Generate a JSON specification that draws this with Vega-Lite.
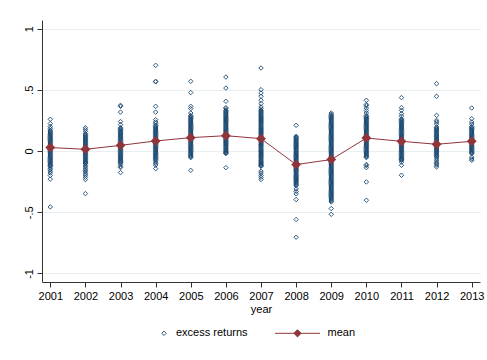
{
  "$schema": "https://vega.github.io/schema/vega-lite/v6.json",
  "width": 438,
  "height": 262,
  "autosize": "none",
  "padding": {"left": 42, "top": 20, "right": 7, "bottom": 78},
  "background": "white",
  "config": {
    "view": {"stroke": null},
    "font": "Liberation Sans",
    "axis": {"labelFont": "Liberation Sans", "titleFont": "Liberation Sans", "labelColor": "#000", "titleColor": "#000", "domainColor": "#333", "tickColor": "#333", "tickSize": 5, "labelFontSize": 11, "titleFontSize": 11, "titleFontWeight": "normal"},
    "axisX": {"labelOverlap": false, "labelSeparation": 0},
    "legend": {"labelFont": "Liberation Sans", "labelFontSize": 11, "labelColor": "#000", "padding": 0}
  },
  "datasets": {
    "pts": [
      {"year": 2001, "r": [0.259, 0.224, 0.2, 0.185, 0.17, 0.155, 0.14, 0.125, 0.11, 0.095, 0.08, 0.065, 0.05, 0.035, 0.02, 0.005, -0.01, -0.025, -0.04, -0.055, -0.07, -0.085, -0.1, -0.115, -0.125, -0.14, -0.152, -0.165, -0.18, -0.2, -0.23, -0.457, 0.1625, 0.1475, 0.1325, 0.1175, 0.1025, 0.0875, 0.0725, 0.0575, 0.0425, 0.0275, 0.0125, -0.0025, -0.0175, -0.0325, -0.0475, -0.0625, -0.0775, -0.0925, -0.1075, -0.12]},
      {"year": 2002, "r": [0.19, 0.175, 0.16, 0.142, 0.127, 0.112, 0.097, 0.082, 0.067, 0.052, 0.037, 0.022, 0.007, -0.008, -0.023, -0.038, -0.053, -0.068, -0.083, -0.098, -0.103, -0.118, -0.13, -0.145, -0.158, -0.17, -0.185, -0.198, -0.215, -0.233, -0.348, 0.1345, 0.1195, 0.1045, 0.0895, 0.0745, 0.0595, 0.0445, 0.0295, 0.0145, -0.0005, -0.0155, -0.0305, -0.0455, -0.0605, -0.0755, -0.0905, -0.1]},
      {"year": 2003, "r": [0.373, 0.365, 0.318, 0.24, 0.215, 0.19, 0.183, 0.168, 0.153, 0.138, 0.123, 0.108, 0.093, 0.078, 0.063, 0.048, 0.033, 0.018, 0.003, -0.012, -0.027, -0.042, -0.057, -0.072, -0.087, -0.098, -0.11, -0.125, -0.135, -0.176, 0.1755, 0.1605, 0.1455, 0.1305, 0.1155, 0.1005, 0.0855, 0.0705, 0.0555, 0.0405, 0.0255, 0.0105, -0.0045, -0.0195, -0.0345, -0.0495, -0.0645, -0.0795, -0.0925]},
      {"year": 2004, "r": [0.7, 0.569, 0.565, 0.365, 0.318, 0.256, 0.237, 0.225, 0.21, 0.195, 0.18, 0.165, 0.15, 0.135, 0.12, 0.105, 0.09, 0.075, 0.06, 0.045, 0.03, 0.015, 0, -0.015, -0.03, -0.045, -0.06, -0.076, -0.09, -0.103, -0.115, -0.144, 0.2025, 0.1875, 0.1725, 0.1575, 0.1425, 0.1275, 0.1125, 0.0975, 0.0825, 0.0675, 0.0525, 0.0375, 0.0225, 0.0075, -0.0075, -0.0225, -0.0375, -0.0525, -0.068]},
      {"year": 2005, "r": [0.569, 0.477, 0.365, 0.346, 0.31, 0.29, 0.275, 0.26, 0.245, 0.23, 0.215, 0.2, 0.185, 0.17, 0.155, 0.14, 0.125, 0.11, 0.095, 0.08, 0.065, 0.05, 0.035, 0.02, 0.005, -0.01, -0.025, -0.04, -0.054, -0.158, 0.2825, 0.2675, 0.2525, 0.2375, 0.2225, 0.2075, 0.1925, 0.1775, 0.1625, 0.1475, 0.1325, 0.1175, 0.1025, 0.0875, 0.0725, 0.0575, 0.0425, 0.0275, 0.0125, -0.0025, -0.0175, -0.0325, -0.047]},
      {"year": 2006, "r": [0.604, 0.514, 0.406, 0.354, 0.345, 0.332, 0.317, 0.302, 0.287, 0.272, 0.257, 0.242, 0.227, 0.212, 0.197, 0.182, 0.167, 0.152, 0.137, 0.122, 0.107, 0.092, 0.077, 0.062, 0.047, 0.032, 0.017, 0.002, -0.013, -0.021, -0.136, 0.3245, 0.3095, 0.2945, 0.2795, 0.2645, 0.2495, 0.2345, 0.2195, 0.2045, 0.1895, 0.1745, 0.1595, 0.1445, 0.1295, 0.1145, 0.0995, 0.0845, 0.0695, 0.0545, 0.0395, 0.0245, 0.0095, -0.0055, -0.017]},
      {"year": 2007, "r": [0.678, 0.501, 0.474, 0.447, 0.414, 0.387, 0.36, 0.345, 0.332, 0.317, 0.302, 0.287, 0.272, 0.257, 0.242, 0.227, 0.212, 0.197, 0.182, 0.167, 0.152, 0.137, 0.122, 0.107, 0.092, 0.077, 0.062, 0.047, 0.032, 0.017, 0.002, -0.013, -0.028, -0.043, -0.058, -0.073, -0.088, -0.103, -0.118, -0.125, -0.165, -0.18, -0.2, -0.215, -0.233, 0.3245, 0.3095, 0.2945, 0.2795, 0.2645, 0.2495, 0.2345, 0.2195, 0.2045, 0.1895, 0.1745, 0.1595, 0.1445, 0.1295, 0.1145, 0.0995, 0.0845, 0.0695, 0.0545, 0.0395, 0.0245, 0.0095, -0.0055, -0.0205, -0.0355, -0.0505, -0.0655, -0.0805, -0.0955, -0.1105, -0.1215]},
      {"year": 2008, "r": [0.21, 0.12, 0.105, 0.09, 0.075, 0.06, 0.045, 0.03, 0.015, 0, -0.015, -0.03, -0.045, -0.06, -0.075, -0.09, -0.105, -0.12, -0.135, -0.15, -0.165, -0.18, -0.198, -0.21, -0.225, -0.24, -0.255, -0.27, -0.285, -0.31, -0.33, -0.35, -0.397, -0.56, -0.704, 0.1125, 0.0975, 0.0825, 0.0675, 0.0525, 0.0375, 0.0225, 0.0075, -0.0075, -0.0225, -0.0375, -0.0525, -0.0675, -0.0825, -0.0975, -0.1125, -0.1275, -0.1425, -0.1575, -0.1725, -0.189, -0.204, -0.2175, -0.2325, -0.2475, -0.2625, -0.2775]},
      {"year": 2009, "r": [0.31, 0.3, 0.29, 0.275, 0.26, 0.245, 0.23, 0.215, 0.2, 0.185, 0.17, 0.155, 0.14, 0.125, 0.11, 0.095, 0.08, 0.065, 0.05, 0.035, 0.02, 0.005, -0.01, -0.025, -0.04, -0.055, -0.07, -0.085, -0.1, -0.115, -0.13, -0.145, -0.16, -0.175, -0.19, -0.205, -0.22, -0.235, -0.25, -0.265, -0.28, -0.295, -0.31, -0.325, -0.34, -0.355, -0.37, -0.385, -0.4, -0.416, -0.47, -0.517, 0.2825, 0.2675, 0.2525, 0.2375, 0.2225, 0.2075, 0.1925, 0.1775, 0.1625, 0.1475, 0.1325, 0.1175, 0.1025, 0.0875, 0.0725, 0.0575, 0.0425, 0.0275, 0.0125, -0.0025, -0.0175, -0.0325, -0.0475, -0.0625, -0.0775, -0.0925, -0.1075, -0.1225, -0.1375, -0.1525, -0.1675, -0.1825, -0.1975, -0.2125, -0.2275, -0.2425, -0.2575, -0.2725, -0.2875, -0.3025, -0.3175, -0.3325, -0.3475, -0.3625, -0.3775, -0.3925, -0.408]},
      {"year": 2010, "r": [0.414, 0.38, 0.37, 0.35, 0.33, 0.31, 0.29, 0.275, 0.26, 0.245, 0.23, 0.215, 0.2, 0.185, 0.17, 0.155, 0.14, 0.125, 0.11, 0.095, 0.08, 0.065, 0.05, 0.035, 0.02, 0.005, -0.01, -0.025, -0.04, -0.054, -0.11, -0.12, -0.136, -0.253, -0.402, 0.2825, 0.2675, 0.2525, 0.2375, 0.2225, 0.2075, 0.1925, 0.1775, 0.1625, 0.1475, 0.1325, 0.1175, 0.1025, 0.0875, 0.0725, 0.0575, 0.0425, 0.0275, 0.0125, -0.0025, -0.0175, -0.0325, -0.047]},
      {"year": 2011, "r": [0.436, 0.354, 0.332, 0.305, 0.285, 0.264, 0.249, 0.234, 0.219, 0.204, 0.189, 0.174, 0.159, 0.144, 0.129, 0.114, 0.099, 0.084, 0.069, 0.054, 0.039, 0.024, 0.009, -0.006, -0.021, -0.036, -0.051, -0.066, -0.076, -0.09, -0.117, -0.198, 0.2565, 0.2415, 0.2265, 0.2115, 0.1965, 0.1815, 0.1665, 0.1515, 0.1365, 0.1215, 0.1065, 0.0915, 0.0765, 0.0615, 0.0465, 0.0315, 0.0165, 0.0015, -0.0135, -0.0285, -0.0435, -0.0585, -0.071]},
      {"year": 2012, "r": [0.55, 0.447, 0.291, 0.25, 0.237, 0.22, 0.196, 0.181, 0.166, 0.151, 0.136, 0.121, 0.106, 0.091, 0.076, 0.061, 0.046, 0.031, 0.016, 0.001, -0.014, -0.029, -0.044, -0.049, -0.065, -0.08, -0.095, -0.103, -0.115, -0.13, 0.1885, 0.1735, 0.1585, 0.1435, 0.1285, 0.1135, 0.0985, 0.0835, 0.0685, 0.0535, 0.0385, 0.0235, 0.0085, -0.0065, -0.0215, -0.0365]},
      {"year": 2013, "r": [0.351, 0.264, 0.237, 0.22, 0.2, 0.185, 0.17, 0.155, 0.14, 0.125, 0.11, 0.095, 0.08, 0.065, 0.05, 0.035, 0.02, 0.005, -0.01, -0.022, -0.05, -0.065, -0.076, 0.1925, 0.1775, 0.1625, 0.1475, 0.1325, 0.1175, 0.1025, 0.0875, 0.0725, 0.0575, 0.0425, 0.0275, 0.0125, -0.0025, -0.016]}
    ],
    "means": [
      {"year": 2001, "mean": 0.028},
      {"year": 2002, "mean": 0.014},
      {"year": 2003, "mean": 0.046},
      {"year": 2004, "mean": 0.082},
      {"year": 2005, "mean": 0.109},
      {"year": 2006, "mean": 0.125},
      {"year": 2007, "mean": 0.101},
      {"year": 2008, "mean": -0.111},
      {"year": 2009, "mean": -0.07},
      {"year": 2010, "mean": 0.106},
      {"year": 2011, "mean": 0.079},
      {"year": 2012, "mean": 0.055},
      {"year": 2013, "mean": 0.079}
    ]
  },
  "layer": [
    {
      "data": {"name": "pts"},
      "transform": [{"flatten": ["r"]}],
      "mark": {"type": "point", "shape": "diamond", "filled": false, "size": 20, "strokeWidth": 0.9, "opacity": 1},
      "encoding": {
        "x": {"field": "year", "type": "quantitative", "scale": {"domain": [2000.764, 2013.236], "nice": false, "zero": false},
          "axis": {"values": [2001, 2002, 2003, 2004, 2005, 2006, 2007, 2008, 2009, 2010, 2011, 2012, 2013], "format": "d", "title": "year", "grid": false, "labelPadding": 3, "titlePadding": 2, "labelFlush": false, "labelOverlap": false}},
        "y": {"field": "r", "type": "quantitative", "scale": {"domain": [-1.07, 1.07], "nice": false, "zero": false},
          "axis": {"values": [-1, -0.5, 0, 0.5, 1], "title": null, "grid": true, "gridColor": "#e8eff1", "gridWidth": 1, "labelAngle": 270, "labelAlign": "center", "labelBaseline": "bottom", "labelPadding": 3,
            "labelExpr": "datum.value == 0.5 ? '.5' : datum.value == -0.5 ? '-.5' : datum.value == -1 ? '-1' : datum.value == 1 ? '1' : '0'"}},
        "color": {"datum": "excess returns", "type": "nominal",
          "scale": {"domain": ["excess returns"], "range": ["#1a476f"]},
          "legend": {"title": null, "orient": "none", "legendX": 116.5, "legendY": 306.3,
            "symbolType": "diamond", "symbolSize": 20, "symbolStrokeWidth": 0.9, "clipHeight": 14, "labelOffset": 6.5}}
      }
    },
    {
      "data": {"name": "means"},
      "mark": {"type": "line", "strokeWidth": 1, "color": "#90353b", "point": {"shape": "diamond", "filled": true, "size": 50, "color": "#90353b"}},
      "encoding": {
        "x": {"field": "year", "type": "quantitative", "axis": {"values": [2001, 2002, 2003, 2004, 2005, 2006, 2007, 2008, 2009, 2010, 2011, 2012, 2013], "format": "d", "title": "year", "grid": false, "labelOverlap": false}},
        "y": {"field": "mean", "type": "quantitative"},
        "stroke": {"datum": "mean", "type": "nominal",
          "scale": {"domain": ["mean"], "range": ["#90353b"]},
          "legend": {"title": null, "orient": "none", "legendX": 232.5, "legendY": 306.3,
            "symbolType": "M-1,0L1,0M0,-0.16L0.16,0L0,0.16L-0.16,0Z", "symbolSize": 2025, "symbolFillColor": "#90353b", "symbolStrokeColor": "#90353b", "symbolStrokeWidth": 1, "clipHeight": 14, "labelOffset": 7}}
      }
    }
  ]
}
